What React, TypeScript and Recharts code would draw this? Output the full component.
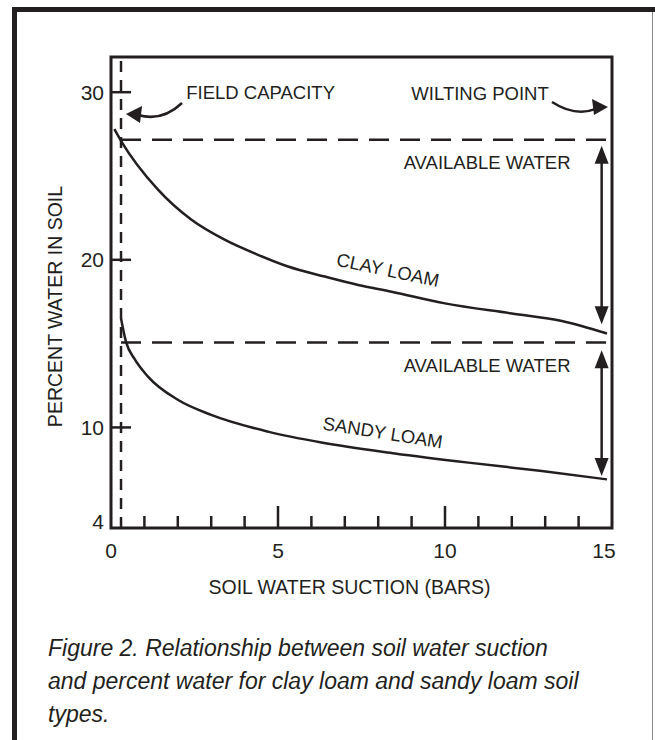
import React from 'react'
import {
  LineChart,
  Line,
  XAxis,
  YAxis,
  ReferenceLine,
  ReferenceArea,
  ReferenceDot,
  Label,
} from 'recharts'

/* ── data ───────────────────────────────────────────────── */

const claySuction = [0.1, 0.3, 1.4, 2.4, 3.4, 4.4, 5.3, 6.4, 7.4, 8.4, 10, 12, 13.5, 14.85]
const clayPercent = [27.8, 27.1, 24.2, 22.4, 21.2, 20.3, 19.6, 19.0, 18.5, 18.1, 17.4, 16.8, 16.35, 15.6]

const sandySuction = [0.3, 0.45, 0.7, 1.1, 2, 3, 4.7, 6.3, 8.5, 10.7, 12.9, 14.85]
const sandyPercent = [16.5, 15.1, 14.1, 13.05, 11.65, 10.75, 9.75, 9.1, 8.45, 7.9, 7.4, 6.9]

const xTicks = [0, 1, 2, 3, 4, 5, 6, 7, 8, 9, 10, 11, 12, 13, 14, 15]
const xLabelled = [0, 5, 10, 15]
const yTicks = [4, 10, 20, 30]

const fieldCapacity = 0.3 // bars
const clayAvailableTop = 27.16
const sandyAvailableTop = 15.07

const clayData = claySuction.map((s, i) => ({ suction: s, percent: clayPercent[i] }))
const sandyData = sandySuction.map((s, i) => ({ suction: s, percent: sandyPercent[i] }))

const INK = '#231f20'
const FONT = '"Liberation Sans", Arial, Helvetica, sans-serif'

/* ── little drawing helpers ─────────────────────────────── */

function XTick({ x, y, payload }: any) {
  const v = payload.value
  const len = v % 5 === 0 ? 22 : 12
  return (
    <g>
      {v > 0 && v < 15 ? (
        <line x1={x} x2={x} y1={y} y2={y - len} stroke={INK} strokeWidth={2.5} />
      ) : null}
      {xLabelled.includes(v) ? (
        <text
          x={v === 15 ? x - 8 : x}
          y={y + 30}
          textAnchor="middle"
          fontSize={21}
          fontFamily={FONT}
          fill={INK}
        >
          {v}
        </text>
      ) : null}
    </g>
  )
}

function YTick({ x, y, payload }: any) {
  const v = payload.value
  return (
    <g>
      {v !== 4 ? <line x1={x} x2={x + 20} y1={y} y2={y} stroke={INK} strokeWidth={2.5} /> : null}
      <text
        x={x - 7}
        y={v === 4 ? y - 7 : y}
        textAnchor="end"
        dominantBaseline="central"
        fontSize={21}
        fontFamily={FONT}
        fill={INK}
      >
        {v}
      </text>
    </g>
  )
}

const note = (text: string, angle = 0, size = 18.5) => (p: any) => (
  <text
    x={p.cx}
    y={p.cy}
    transform={angle ? `rotate(${angle} ${p.cx} ${p.cy})` : undefined}
    textAnchor="middle"
    dominantBaseline="central"
    fontSize={size}
    fontFamily={FONT}
    fill={INK}
  >
    {text}
  </text>
)

const headDown = (p: any) => (
  <polygon points={`${p.cx},${p.cy} ${p.cx - 7},${p.cy - 18} ${p.cx + 7},${p.cy - 18}`} fill={INK} />
)
const headUp = (p: any) => (
  <polygon points={`${p.cx},${p.cy} ${p.cx - 7},${p.cy + 18} ${p.cx + 7},${p.cy + 18}`} fill={INK} />
)

// curved pointer from "FIELD CAPACITY" to the dashed line (tip on the left)
const leftHook = (p: any) => (
  <g>
    <path
      d={`M ${p.cx + 56} ${p.cy - 11} Q ${p.cx + 36} ${p.cy + 8} ${p.cx + 12} ${p.cy + 1}`}
      fill="none"
      stroke={INK}
      strokeWidth={2.5}
    />
    <polygon points={`${p.cx},${p.cy} ${p.cx + 16},${p.cy - 8} ${p.cx + 14},${p.cy + 9}`} fill={INK} />
  </g>
)

// curved pointer from "WILTING POINT" to the right edge (tip on the right)
const rightHook = (p: any) => (
  <g>
    <path
      d={`M ${p.cx - 56} ${p.cy - 5} Q ${p.cx - 33} ${p.cy + 10} ${p.cx - 12} ${p.cy + 2}`}
      fill="none"
      stroke={INK}
      strokeWidth={2.5}
    />
    <polygon points={`${p.cx},${p.cy} ${p.cx - 16},${p.cy - 8} ${p.cx - 14},${p.cy + 8}`} fill={INK} />
  </g>
)

const yTitle = ({ viewBox }: any) => {
  const cx = viewBox.x + 55
  const cy = viewBox.y + viewBox.height / 2 + 14
  return (
    <text
      x={cx}
      y={cy}
      transform={`rotate(-90 ${cx} ${cy})`}
      textAnchor="middle"
      dominantBaseline="central"
      fontSize={19.5}
      fontFamily={FONT}
      fill={INK}
    >
      PERCENT WATER IN SOIL
    </text>
  )
}

/* ── figure ─────────────────────────────────────────────── */

export default function App() {
  return (
    <div
      style={{
        position: 'absolute',
        left: 0,
        top: 0,
        width: 655,
        height: 740,
        background: '#fff',
        overflow: 'hidden',
      }}
    >
      {/* page frame */}
      <div style={{ position: 'absolute', left: 12, top: 7, width: 643, height: 5, background: INK }} />
      <div style={{ position: 'absolute', left: 12, top: 7, width: 5, height: 733, background: INK }} />
      <div style={{ position: 'absolute', left: 652, top: 12, width: 1, height: 728, background: '#888' }} />

      <div style={{ position: 'absolute', left: 0, top: 0 }}>
        <LineChart width={655} height={600} margin={{ top: 57, right: 43, left: 0, bottom: 0 }}>
          <XAxis
            type="number"
            dataKey="suction"
            domain={[0, 15]}
            ticks={xTicks}
            interval={0}
            axisLine={false}
            tickLine={false}
            tickSize={0}
            tickMargin={0}
            tick={XTick}
            height={72}
          >
            <Label
              value="SOIL WATER SUCTION (BARS)"
              position="insideBottom"
              offset={6}
              dx={-12}
              fontSize={19.5}
              fontFamily={FONT}
              fill={INK}
            />
          </XAxis>
          <YAxis
            type="number"
            dataKey="percent"
            domain={[4, 32.1]}
            ticks={yTicks}
            interval={0}
            axisLine={false}
            tickLine={false}
            tickSize={0}
            tickMargin={0}
            tick={YTick}
            width={111}
          >
            <Label content={yTitle} />
          </YAxis>

          {/* plot box */}
          <ReferenceArea x1={0} x2={15} y1={4} y2={32.1} fill="none" stroke={INK} strokeWidth={3} />

          {/* field capacity / available water limits */}
          <ReferenceLine x={fieldCapacity} stroke={INK} strokeWidth={2.5} strokeDasharray="11 8" />
          <ReferenceLine
            segment={[{ x: fieldCapacity, y: clayAvailableTop }, { x: 15, y: clayAvailableTop }]}
            stroke={INK}
            strokeWidth={2.5}
            strokeDasharray="20 11"
          />
          <ReferenceLine
            segment={[{ x: fieldCapacity, y: sandyAvailableTop }, { x: 15, y: sandyAvailableTop }]}
            stroke={INK}
            strokeWidth={2.5}
            strokeDasharray="20 11"
          />

          <Line
            data={clayData}
            dataKey="percent"
            type="monotone"
            stroke={INK}
            strokeWidth={2.5}
            dot={false}
            isAnimationActive={false}
          />
          <Line
            data={sandyData}
            dataKey="percent"
            type="monotone"
            stroke={INK}
            strokeWidth={2.5}
            dot={false}
            isAnimationActive={false}
          />

          {/* available water arrows */}
          <ReferenceLine segment={[{ x: 14.69, y: 26.0 }, { x: 14.69, y: 17.0 }]} stroke={INK} strokeWidth={2.5} />
          <ReferenceDot x={14.69} y={26.8} shape={headUp} />
          <ReferenceDot x={14.69} y={16.15} shape={headDown} />
          <ReferenceLine segment={[{ x: 14.69, y: 13.8 }, { x: 14.69, y: 7.9 }]} stroke={INK} strokeWidth={2.5} />
          <ReferenceDot x={14.69} y={14.6} shape={headUp} />
          <ReferenceDot x={14.69} y={7.1} shape={headDown} />

          {/* annotations */}
          <ReferenceDot x={4.48} y={30.0} shape={note('FIELD CAPACITY')} />
          <ReferenceDot x={11.05} y={29.95} shape={note('WILTING POINT')} />
          <ReferenceDot x={0.45} y={28.7} shape={leftHook} />
          <ReferenceDot x={14.88} y={29.12} shape={rightHook} />
          <ReferenceDot x={11.26} y={25.78} shape={note('AVAILABLE WATER')} />
          <ReferenceDot x={11.26} y={13.68} shape={note('AVAILABLE WATER')} />
          <ReferenceDot x={8.29} y={19.4} shape={note('CLAY LOAM', 12)} />
          <ReferenceDot x={8.14} y={9.7} shape={note('SANDY LOAM', 9)} />
        </LineChart>
      </div>

      <div
        style={{
          position: 'absolute',
          left: 48,
          top: 632,
          fontFamily: FONT,
          fontStyle: 'italic',
          fontSize: 23,
          lineHeight: '33px',
          color: INK,
          whiteSpace: 'nowrap',
        }}
      >
        Figure 2. Relationship between soil water suction
        <br />
        and percent water for clay loam and sandy loam soil
        <br />
        types.
      </div>
    </div>
  )
}
